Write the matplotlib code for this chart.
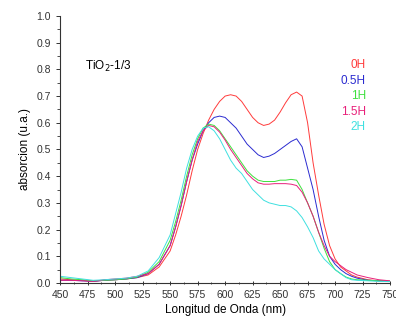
import numpy as np
import matplotlib
matplotlib.use("Agg")
import matplotlib.pyplot as plt
from matplotlib.ticker import MultipleLocator

plt.rcParams["font.family"] = ["Liberation Sans", "DejaVu Sans"]

# longitudes de onda (nm)
wl = [450, 460, 470, 480, 490, 500, 510, 520, 530, 540, 550, 555, 560, 565, 570, 575,
      580, 585, 590, 595, 600, 605, 610, 615, 620, 625, 630, 635, 640, 645, 650, 655,
      660, 665, 670, 675, 680, 685, 690, 695, 700, 705, 710, 715, 720, 730, 740, 750]

abs_0h = [0.015, 0.012, 0.010, 0.006, 0.010, 0.012, 0.015, 0.020, 0.030, 0.060, 0.12, 0.18,
          0.25, 0.33, 0.42, 0.50, 0.56, 0.61, 0.65, 0.68, 0.70, 0.705, 0.70, 0.68, 0.65, 0.62,
          0.60, 0.59, 0.595, 0.61, 0.64, 0.675, 0.705, 0.715, 0.70, 0.60, 0.45, 0.33, 0.22,
          0.14, 0.09, 0.06, 0.045, 0.03, 0.022, 0.012, 0.008, 0.006]
abs_05h = [0.010, 0.010, 0.008, 0.006, 0.010, 0.012, 0.015, 0.020, 0.035, 0.070, 0.14, 0.21,
           0.29, 0.38, 0.46, 0.52, 0.57, 0.60, 0.62, 0.625, 0.62, 0.60, 0.58, 0.55, 0.52, 0.50,
           0.48, 0.47, 0.475, 0.485, 0.50, 0.515, 0.53, 0.54, 0.51, 0.43, 0.35, 0.25, 0.16,
           0.10, 0.07, 0.05, 0.035, 0.025, 0.018, 0.010, 0.008, 0.006]
abs_1h = [0.020, 0.015, 0.012, 0.008, 0.010, 0.012, 0.015, 0.022, 0.040, 0.080, 0.16, 0.23,
          0.31, 0.40, 0.48, 0.54, 0.58, 0.595, 0.59, 0.57, 0.54, 0.51, 0.48, 0.45, 0.42, 0.40,
          0.385, 0.38, 0.38, 0.38, 0.385, 0.385, 0.388, 0.385, 0.35, 0.30, 0.25, 0.19, 0.13,
          0.08, 0.05, 0.035, 0.022, 0.015, 0.012, 0.010, 0.008, 0.006]
abs_15h = [0.010, 0.010, 0.008, 0.006, 0.012, 0.015, 0.018, 0.025, 0.035, 0.070, 0.14, 0.21,
           0.29, 0.38, 0.46, 0.53, 0.57, 0.59, 0.585, 0.565, 0.535, 0.50, 0.47, 0.44, 0.41,
           0.39, 0.375, 0.37, 0.37, 0.372, 0.372, 0.372, 0.37, 0.365, 0.34, 0.30, 0.25, 0.19,
           0.14, 0.10, 0.08, 0.065, 0.05, 0.04, 0.03, 0.02, 0.012, 0.008]
abs_2h = [0.025, 0.020, 0.015, 0.010, 0.012, 0.015, 0.018, 0.025, 0.045, 0.095, 0.18, 0.26,
          0.34, 0.43, 0.50, 0.55, 0.58, 0.585, 0.57, 0.54, 0.50, 0.46, 0.43, 0.41, 0.38, 0.35,
          0.33, 0.31, 0.30, 0.295, 0.29, 0.29, 0.285, 0.27, 0.245, 0.21, 0.17, 0.12, 0.09,
          0.07, 0.05, 0.035, 0.02, 0.012, 0.010, 0.008, 0.006, 0.005]

labels = ["0H", "0.5H", "1H", "1.5H", "2H"]
series = [abs_0h, abs_05h, abs_1h, abs_15h, abs_2h]
colors = ["#ff3b3b", "#2b2bd0", "#3ee03e", "#e8207a", "#3fe0e0"]

fig = plt.figure(figsize=(3.96, 3.26), dpi=100)
ax = fig.add_axes([0.152, 0.132, 0.833, 0.819])

for y, c in zip(series, colors):
    ax.plot(wl, y, color=c, lw=0.7)

ax.set_xlim(450, 750)
ax.set_ylim(0, 1.0)
ax.xaxis.set_major_locator(MultipleLocator(25))
ax.xaxis.set_minor_locator(MultipleLocator(12.5))
ax.yaxis.set_major_locator(MultipleLocator(0.1))
ax.yaxis.set_minor_locator(MultipleLocator(0.05))
ax.yaxis.set_major_formatter(plt.FormatStrFormatter("%.1f"))
ax.spines["top"].set_visible(False)
ax.spines["right"].set_visible(False)
ax.tick_params(axis="both", which="major", labelsize=7.5, length=3, width=0.7, colors="#333333")
ax.tick_params(axis="both", which="minor", length=2, width=0.6, colors="#333333")
ax.tick_params(axis="x", which="both", direction="inout")
for s in ["left", "bottom"]:
    ax.spines[s].set_linewidth(0.8)
    ax.spines[s].set_color("#333333")

ax.set_xlabel("Longitud de Onda (nm)", fontsize=8.5, labelpad=3)
ax.set_ylabel("absorcion (u.a.)", fontsize=8.5, labelpad=4)

ax.text(473, 0.81, "TiO$_2$-1/3", fontsize=8.5, va="center", ha="left")
for i, (lab, c) in enumerate(zip(labels, colors)):
    ax.text(728, 0.815 - i * 0.058, lab, color=c, fontsize=8.5, ha="right", va="center")

fig.savefig("out.png", dpi=100)
